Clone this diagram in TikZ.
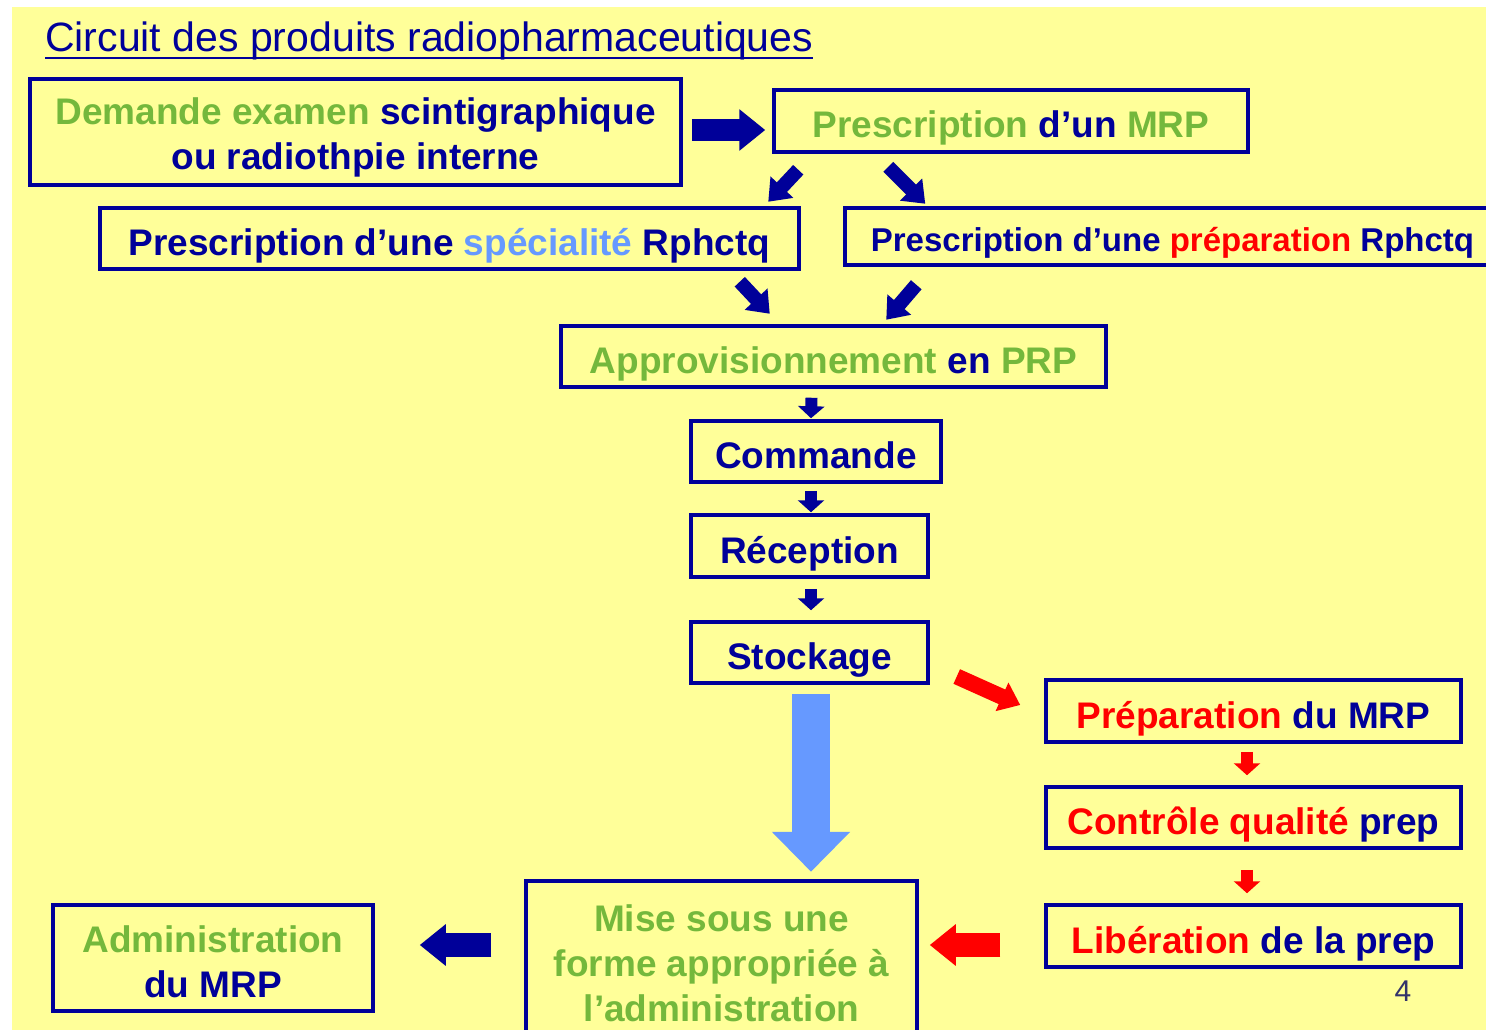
\documentclass[tikz,border=0pt]{standalone}
\usepackage{fontspec}
\setmainfont{Liberation Sans}
\usetikzlibrary{arrows.meta,calc}
\definecolor{dblue}{HTML}{000099}
\definecolor{ggreen}{HTML}{74B83C}
\definecolor{lblue}{HTML}{6699FF}
\definecolor{rred}{HTML}{FF0000}
\definecolor{bgyellow}{HTML}{FFFF99}
\definecolor{pnum}{HTML}{33336A}
\newcommand\gtxt[1]{\textcolor{ggreen}{#1}}
\newcommand\rtxt[1]{\textcolor{rred}{#1}}
\newcommand\btxt[1]{\textcolor{lblue}{#1}}
\tikzset{
  box/.style={draw=dblue, line width=3.5pt, inner sep=0pt, align=center,
    text=dblue, font=\bfseries\fontsize{37}{45}\selectfont},
  one/.style={text height=34pt, text depth=0pt},
  barrow/.style={line width=#1},
  tipA/.style={-{Triangle[length=26pt,width=40pt]}},
  tipB/.style={-{Triangle[length=20pt,width=30pt]}},
  tipC/.style={-{Triangle[length=12pt,width=26pt]}},
}
\begin{document}
\begin{tikzpicture}[x=1pt,y=-1pt]
\useasboundingbox (0,0) rectangle (1486,1030);
\fill[white] (0,0) rectangle (1486,1030);
\fill[bgyellow] (12,7) rectangle (1486,1030);

\node[anchor=base west, inner sep=0pt, text=dblue, font=\fontsize{41}{44}\selectfont] (title) at (45,52)
  {Circuit des produits radiopharmaceutiques};
\draw[dblue, line width=2.2pt] ($(title.base west)+(0,6)$) -- ($(title.base east)+(0,6)$);

\node[box, minimum width=651pt, minimum height=106pt] (dem) at (355.5,132)
  {\rule{0pt}{38pt}\gtxt{Demande examen} scintigraphique\\ou radiothpie interne};
\node[box, one, minimum width=474pt, minimum height=62pt] (pmrp) at (1011,121)
  {\gtxt{Prescription} d’un \gtxt{MRP}};
\node[box, one, minimum width=699pt, minimum height=61pt] (spec) at (449.5,238.5)
  {Prescription d’une \btxt{spécialité} Rphctq};
\node[box, minimum width=655pt, minimum height=57pt, text height=29pt, text depth=0pt,
  font=\bfseries\fontsize{33}{40}\selectfont] (prep) at (1172.5,236.5)
  {Prescription d’une \rtxt{préparation} Rphctq};
\node[box, one, minimum width=545pt, minimum height=61pt] (appro) at (833.5,356.5)
  {\gtxt{Approvisionnement} en \gtxt{PRP}};
\node[box, one, minimum width=250pt, minimum height=61pt] (comm) at (816,451.5)
  {Commande};
\node[box, one, minimum width=237pt, minimum height=62pt] (recep) at (809.5,546)
  {Réception};
\node[box, one, minimum width=237pt, minimum height=61pt] (stock) at (809.5,652.5)
  {Stockage};
\node[box, one, minimum width=415pt, minimum height=62pt] (prepm) at (1253.5,711)
  {\rtxt{Préparation} du MRP};
\node[box, one, minimum width=415pt, minimum height=61pt] (cq) at (1253.5,817.5)
  {\rtxt{Contrôle qualité} prep};
\node[box, one, minimum width=415pt, minimum height=62pt] (lib) at (1253.5,936)
  {\rtxt{Libération} de la prep};
\node[box, minimum width=391pt, minimum height=164pt] (mise) at (721.5,963)
  {\gtxt{Mise sous une}\\\gtxt{forme appropriée à}\\\gtxt{l’administration}};
\node[box, minimum width=320pt, minimum height=106pt] (admin) at (213,958)
  {\rule{0pt}{34pt}\gtxt{Administration}\\du MRP};

\node[text=pnum, font=\fontsize{30}{34}\selectfont] (pg) at (1403,991) {4};

% arrows
\draw[dblue, barrow=22pt, tipA] ($(dem.east)+(9,-2)$) -- ($(pmrp.west)+(-7,9)$);
\draw[dblue, barrow=14pt, tipB] ($(pmrp.south west)+(26,16)$) -- ($(pmrp.south west)+(-4,48)$);
\draw[dblue, barrow=14pt, tipB] ($(pmrp.south west)+(116,13)$) -- ($(pmrp.south west)+(153,50)$);
\draw[dblue, barrow=14pt, tipB] ($(spec.south east)+(-61,11)$) -- ($(spec.south east)+(-31,43)$);
\draw[dblue, barrow=14pt, tipB] ($(prep.south west)+(73,18)$) -- ($(prep.south west)+(43,53)$);
\draw[dblue, barrow=12pt, tipC] ($(appro.south)+(-22,9)$) -- ($(comm.north)+(-5,-1)$);
\draw[dblue, barrow=12pt, tipC] ($(comm.south)+(-5,7)$) -- ($(recep.north)+(1.5,-1)$);
\draw[dblue, barrow=12pt, tipC] ($(recep.south)+(1.5,10)$) -- ($(stock.north)+(1.5,-10)$);
\draw[lblue, barrow=38pt, -{Triangle[length=40pt,width=76pt]}] ($(stock.south)+(1.5,9)$) -- ($(stock.south)+(1.5,187)$);
\draw[rred, barrow=16pt, tipB] ($(stock.east)+(27,24)$) -- ($(prepm.west)+(-24,-6)$);
\draw[rred, barrow=12pt, tipC] ($(prepm.south)+(-6.5,8)$) -- ($(cq.north)+(-6.5,-10)$);
\draw[rred, barrow=12pt, tipC] ($(cq.south)+(-6.5,20)$) -- ($(lib.north)+(-6.5,-10)$);
\draw[rred, barrow=24pt, tipA] ($(lib.west)+(-44,9)$) -- ($(mise.east)+(11,-18)$);
\draw[dblue, barrow=24pt, tipA] ($(mise.west)+(-33,-18)$) -- ($(admin.east)+(45,-13)$);
\end{tikzpicture}
\end{document}
